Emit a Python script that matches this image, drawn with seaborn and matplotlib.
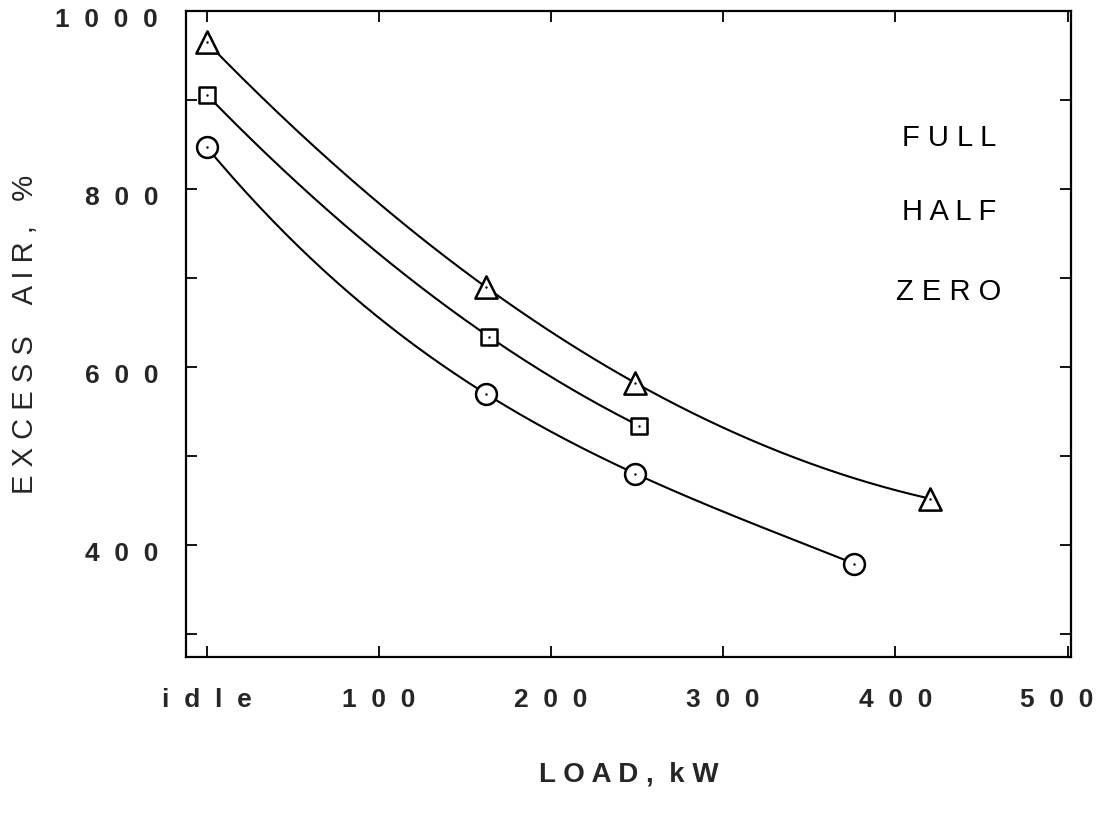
import numpy as np
import pandas as pd
import matplotlib
matplotlib.use("Agg")
import matplotlib.pyplot as plt
import matplotlib.transforms as mtransforms
import seaborn as sns

# ---- data ----
full_load = [0, 162, 249, 420]
full_air = [965, 690, 582, 452]
half_load = [0, 164, 251]
half_air = [906, 634, 534]
zero_load = [0, 162, 249, 376]
zero_air = [847, 570, 480, 379]

series_names = ["FULL", "HALF", "ZERO"]
series_markers = ["^", "s", "o"]
series_sizes = [16, 12, 15]

x_ticks = [0, 100, 200, 300, 400, 500]
x_ticklabels = ["i  d  l  e", "1  0  0", "2  0  0", "3  0  0", "4  0  0", "5  0  0"]
y_ticks = [400, 600, 800, 1000]
y_ticklabels = ["4  0  0", "6  0  0", "8  0  0", "1  0  0  0"]
y_minor = [300, 500, 700, 900]

sns.set_theme(style="ticks")
plt.rcParams["font.family"] = ["Liberation Sans", "DejaVu Sans"]

fig = plt.figure(figsize=(11.03, 8.18), dpi=100)
ax = fig.add_axes([186 / 1103, 1 - 657 / 818, (1071 - 186) / 1103, (657 - 11) / 818])

loads = [full_load, half_load, zero_load]
airs = [full_air, half_air, zero_air]

for name, xs, ys, mk, ms in zip(series_names, loads, airs, series_markers, series_sizes):
    xs = np.asarray(xs, float)
    ys = np.asarray(ys, float)
    coef = np.polyfit(xs, ys, len(xs) - 1)
    xd = np.linspace(xs.min(), xs.max(), 200)
    curve = pd.DataFrame({"load": xd, "air": np.polyval(coef, xd)})
    sns.lineplot(data=curve, x="load", y="air", ax=ax, color="black",
                 linewidth=1.5, sort=False, estimator=None, zorder=2)
    pts = pd.DataFrame({"load": xs, "air": ys})
    sns.scatterplot(data=pts, x="load", y="air", ax=ax, marker=mk, s=ms ** 2,
                    facecolor="white", edgecolor="black", linewidth=1.8, zorder=3)
    sns.scatterplot(data=pts, x="load", y="air", ax=ax, marker="o", s=3,
                    color="black", linewidth=0, zorder=4)

ax.set_xlim(-12, 502)
ax.set_ylim(274, 1000)

ax.set_xticks(x_ticks)
ax.set_xticklabels(x_ticklabels, fontsize=19, fontweight="bold")
ax.set_yticks(y_ticks)
ax.set_yticklabels(y_ticklabels, fontsize=19, fontweight="bold")
ax.set_yticks(y_minor, minor=True)

ax.tick_params(axis="both", which="both", direction="in", length=8, width=1.3,
               top=True, right=True, color="black")
ax.tick_params(axis="x", pad=22)
ax.tick_params(axis="y", pad=20)

shift = mtransforms.ScaledTranslation(0, -5 / 72, fig.dpi_scale_trans)
for lab in ax.get_yticklabels():
    lab.set_transform(lab.get_transform() + shift)
last = ax.get_xticklabels()[-1]
last.set_transform(last.get_transform() + mtransforms.ScaledTranslation(-8 / 72, 0, fig.dpi_scale_trans))

for sp in ax.spines.values():
    sp.set_linewidth(1.6)
    sp.set_color("black")

ax.set_xlabel("L O A D ,  k W", fontsize=20, fontweight="bold", labelpad=36)
ax.set_ylabel("E X C E S S    A I R ,   %", fontsize=21, labelpad=12)

label_y = [857, 774, 684]
for name, yy in zip(series_names, label_y):
    ax.text(431, yy, " ".join(name), fontsize=21,
            ha="center", va="center", color="black")

fig.savefig("out.png", dpi=100)
